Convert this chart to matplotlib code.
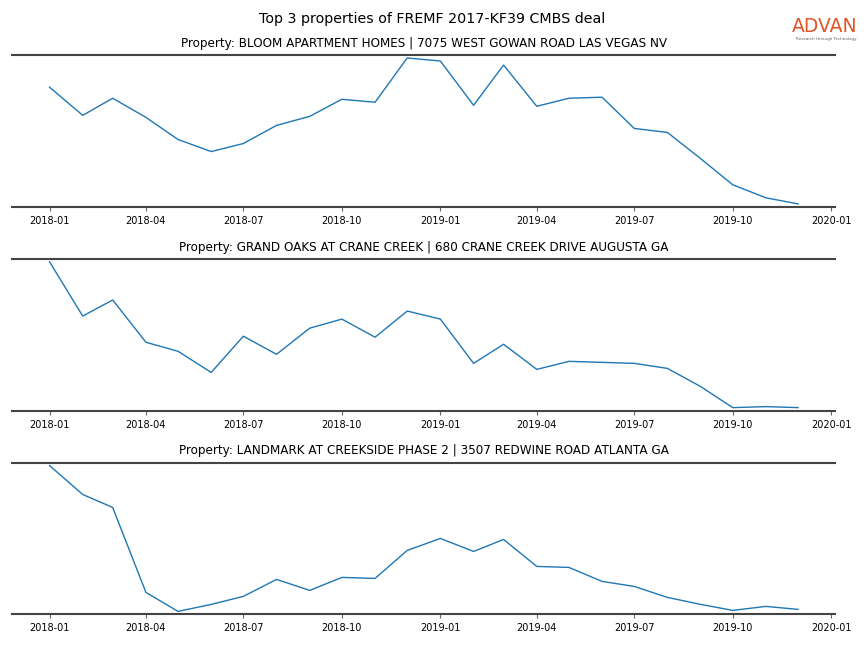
import pandas as pd
import matplotlib.pyplot as plt
import matplotlib.dates as mdates

plt.rc('font', size=7)

months = pd.date_range('2018-01-01', '2019-12-01', freq='MS')

titles = [
    'Property: BLOOM APARTMENT HOMES | 7075 WEST GOWAN ROAD LAS VEGAS NV',
    'Property: GRAND OAKS AT CRANE CREEK | 680 CRANE CREEK DRIVE AUGUSTA GA',
    'Property: LANDMARK AT CREEKSIDE PHASE 2 | 3507 REDWINE ROAD ATLANTA GA',
]

# visit counts (relative)
bloom = [119, 91, 108, 89, 67, 55, 63, 81, 90, 107, 104, 148, 145, 101,
         141, 100, 108, 109, 78, 74, 48, 22, 9, 3]
grand_oaks = [148, 94, 110, 68, 59, 38, 74, 56, 82, 91, 73, 99, 91, 47,
              66, 41, 49, 48, 47, 42, 24, 3, 4, 3]
landmark = [147, 118, 105, 20, 1, 8, 16, 33, 22, 35, 34, 62, 74, 61,
            73, 46, 45, 31, 26, 15, 8, 2, 6, 3]
series = [bloom, grand_oaks, landmark]

fig, axes = plt.subplots(3, 1, figsize=(8.64, 6.48), dpi=100)
fig.subplots_adjust(left=0.014, right=0.967, top=0.915, bottom=0.052, hspace=0.343)
fig.suptitle('Top 3 properties of FREMF 2017-KF39 CMBS deal', fontsize=10.3, y=0.982)

for ax, vals, title in zip(axes, series, titles):
    ax.plot(months, vals, color='tab:blue', linewidth=1)
    ax.set_title(title, fontsize=8.65, pad=6)
    ax.margins(x=0.05, y=0.02)
    ax.xaxis.set_major_locator(mdates.MonthLocator(bymonth=[1, 4, 7, 10]))
    ax.xaxis.set_major_formatter(mdates.DateFormatter('%Y-%m'))
    ax.set_yticks([])
    ax.spines['left'].set_visible(False)
    ax.spines['right'].set_visible(False)
    for s in ['top', 'bottom']:
        ax.spines[s].set_color('#444444')
        ax.spines[s].set_linewidth(1.5)
    ax.tick_params(axis='x', labelsize=7, color='#666666', length=3)

fig.text(0.992, 0.944, 'ADVAN', color='#e2552a', fontsize=13.5, ha='right',
         va='bottom')
fig.text(0.992, 0.936, 'Research through Technology', color='#666666',
         fontsize=3, ha='right', va='bottom')

fig.savefig('out.png')
